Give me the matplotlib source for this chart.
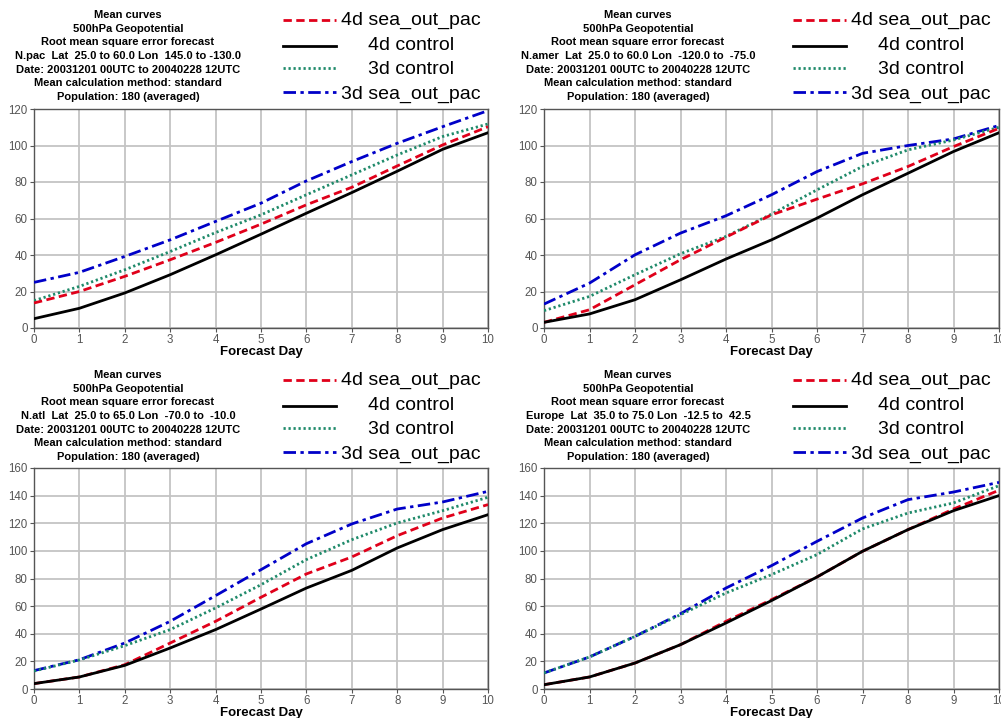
import numpy as np
import matplotlib
matplotlib.use("Agg")
import matplotlib.pyplot as plt
from matplotlib.lines import Line2D

plt.rcParams['font.family'] = ['Liberation Sans', 'DejaVu Sans']

days = np.arange(0, 11)

# N.pac
npac_4d_sea = [13.7, 20.0, 28.3, 37.4, 46.9, 56.9, 67.5, 77.1, 88.8, 100.3, 110.3]
npac_4d_ctl = [5.1, 10.8, 19.2, 29.2, 40.1, 51.4, 62.9, 74.2, 85.9, 97.9, 107.0]
npac_3d_ctl = [15.0, 22.8, 31.9, 41.9, 52.3, 62.0, 73.0, 83.9, 94.8, 104.9, 111.8]
npac_3d_sea = [25.0, 30.5, 39.2, 48.3, 58.4, 68.4, 80.6, 91.2, 101.2, 110.3, 119.1]

# N.amer
namer_4d_sea = [3.1, 10.0, 23.7, 37.4, 49.8, 62.0, 70.6, 79.0, 88.5, 99.4, 109.4]
namer_4d_ctl = [3.1, 7.7, 15.5, 26.4, 37.8, 48.3, 60.2, 73.0, 84.8, 96.7, 107.0]
namer_3d_ctl = [9.5, 17.3, 29.2, 40.7, 50.2, 62.4, 75.7, 88.5, 97.6, 103.0, 110.0]
namer_3d_sea = [13.1, 24.6, 40.1, 52.0, 61.5, 73.0, 85.7, 95.7, 100.0, 103.6, 111.0]

# N.atl
natl_4d_sea = [3.9, 8.7, 17.6, 33.3, 49.0, 66.4, 83.3, 95.6, 111.0, 123.8, 133.5]
natl_4d_ctl = [3.9, 8.7, 17.1, 29.7, 43.0, 57.9, 73.1, 85.9, 102.1, 115.4, 126.2]
natl_3d_ctl = [13.0, 21.0, 31.4, 43.0, 58.7, 75.5, 93.7, 108.1, 120.2, 129.1, 138.8]
natl_3d_sea = [13.3, 21.2, 33.3, 49.0, 67.6, 86.4, 105.2, 119.5, 130.3, 135.4, 143.1]

# Europe
eur_4d_sea = [3.1, 8.7, 18.8, 32.1, 49.0, 64.7, 81.1, 99.7, 115.4, 130.3, 143.9]
eur_4d_ctl = [3.1, 8.7, 18.8, 32.1, 47.8, 64.0, 81.1, 99.7, 115.4, 129.1, 140.0]
eur_3d_ctl = [11.6, 23.2, 38.1, 53.8, 69.5, 82.8, 97.3, 115.9, 127.4, 134.7, 147.2]
eur_3d_sea = [11.6, 23.2, 38.1, 54.5, 73.1, 89.3, 106.9, 123.8, 137.1, 142.6, 149.6]

labels = ["4d sea_out_pac", "4d control", "3d control", "3d sea_out_pac"]
styles = [dict(color="#e0001a", ls=(0, (3, 1.6)), lw=2.0),
          dict(color="black", ls="-", lw=2.0),
          dict(color="#1f8a6a", ls=(0, (0.8, 1.0)), lw=2.0),
          dict(color="#0000c8", ls=(0, (4.5, 1.6, 1.2, 1.6)), lw=2.0)]

regions = ["N.pac  Lat  25.0 to 60.0 Lon  145.0 to -130.0",
           "N.amer  Lat  25.0 to 60.0 Lon  -120.0 to  -75.0",
           "N.atl  Lat  25.0 to 65.0 Lon  -70.0 to  -10.0",
           "Europe  Lat  35.0 to 75.0 Lon  -12.5 to  42.5"]
panels = [(npac_4d_sea, npac_4d_ctl, npac_3d_ctl, npac_3d_sea),
          (namer_4d_sea, namer_4d_ctl, namer_3d_ctl, namer_3d_sea),
          (natl_4d_sea, natl_4d_ctl, natl_3d_ctl, natl_3d_sea),
          (eur_4d_sea, eur_4d_ctl, eur_3d_ctl, eur_3d_sea)]
ymax = [120, 120, 160, 160]

W, H = 1001, 718
fig = plt.figure(figsize=(W / 100, H / 100), dpi=100)

# pixel geometry of each panel: left, top, right, bottom, header offset
geom = [(34, 109, 488, 328, 0), (544, 109, 999, 328, 0),
        (34, 468, 488, 689, 360), (544, 468, 999, 689, 360)]

for k in range(4):
    x0, y0, x1, y1, off = geom[k]
    ax = fig.add_axes([x0 / W, 1 - y1 / H, (x1 - x0) / W, (y1 - y0) / H])
    # draw order: 3d sea, 3d ctl, 4d sea, 4d ctl on top
    for i in [3, 2, 0, 1]:
        ax.plot(days, panels[k][i], **styles[i], zorder=3 + (i == 1))
    ax.set_xlim(0, 10)
    ax.set_ylim(0, ymax[k])
    ax.set_xticks(range(11))
    ax.set_yticks(range(0, ymax[k] + 1, 20))
    ax.grid(True, color="#c4c4c4", lw=1.3)
    for s in ax.spines.values():
        s.set_color("#555555")
        s.set_linewidth(1.0)
    ax.tick_params(colors="#555555", labelsize=8.3, length=3, width=0.8, pad=1.5)
    ax.set_xlabel("Forecast Day", fontsize=9.5, fontweight="bold", labelpad=0)

    # header text
    head = ["Mean curves", "500hPa Geopotential", "Root mean square error forecast",
            regions[k], "Date: 20031201 00UTC to 20040228 12UTC",
            "Mean calculation method: standard", "Population: 180 (averaged)"]
    cx = x0 + 94
    for j, t in enumerate(head):
        fig.text(cx / W, 1 - (off + 15 + j * 13.7) / H, t, ha="center", va="center",
                 fontsize=8.0, fontweight="bold")

    # legend block
    ly = [20, 46, 68, 92]
    ty = [20, 46, 70, 94]
    for i in range(4):
        fig.add_artist(Line2D([(x0 + 249) / W, (x0 + 302) / W],
                              [1 - (off + ly[i]) / H, 1 - (off + ly[i]) / H],
                              transform=fig.transFigure, **styles[i]))
        fig.text((x0 + 377) / W, 1 - (off + ty[i]) / H, labels[i], ha="center",
                 va="center", fontsize=14)

fig.savefig("out.png", dpi=100)
